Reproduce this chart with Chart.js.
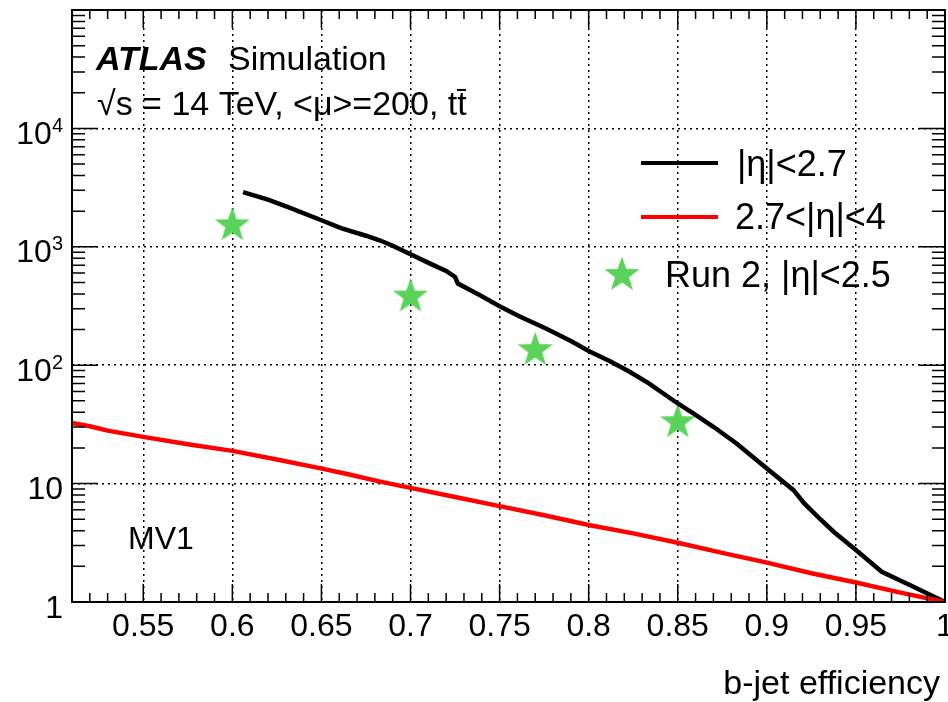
<!DOCTYPE html>
<html>
<head>
<meta charset="utf-8">
<script src="https://cdn.jsdelivr.net/npm/chart.js@4.4.1/dist/chart.umd.min.js"></script>
<style>
  html, body { margin: 0; padding: 0; background: #fff; overflow: hidden; }
  #chart { display: block; }
</style>
</head>
<body>
<canvas id="chart" width="948" height="702"></canvas>
<script>
// |eta| < 2.7 (black)
const centralEff = [0.606, 0.62, 0.632, 0.65, 0.661, 0.675, 0.683, 0.69, 0.70, 0.711, 0.72, 0.725, 0.7266, 0.739, 0.75, 0.761, 0.776, 0.79, 0.80, 0.812, 0.823, 0.834, 0.85, 0.86, 0.87, 0.883, 0.90, 0.915, 0.921, 0.93, 0.9375, 0.95, 0.9645, 0.982, 1.0]
const centralRej = [2900, 2500, 2140, 1675, 1440, 1240, 1130, 1020, 865, 721, 625, 556, 489, 389, 315, 259, 204, 160, 132, 108, 88, 70, 47.5, 38, 30.2, 21.8, 13.4, 8.8, 6.8, 5.0, 3.92, 2.75, 1.80, 1.35, 1.0]

// 2.7 < |eta| < 4 (red)
const forwardEff = [0.51, 0.52, 0.53, 0.55, 0.575, 0.6, 0.625, 0.649, 0.665, 0.683, 0.7, 0.725, 0.75, 0.775, 0.8, 0.825, 0.85, 0.875, 0.9, 0.925, 0.95, 0.975, 1.0]
const forwardRej = [32.5, 30.5, 28, 24.8, 21.5, 18.9, 16, 13.5, 12, 10.4, 9.2, 7.7, 6.45, 5.4, 4.47, 3.8, 3.17, 2.6, 2.15, 1.75, 1.46, 1.2, 1.0]

// Run 2 points (green stars)
const run2Eff = [0.6, 0.7, 0.77, 0.85]
const run2Rej = [1520, 380, 134, 33]

const xTicks = [0.55, 0.6, 0.65, 0.7, 0.75, 0.8, 0.85, 0.9, 0.95, 1]
const xTickLabels = ['0.55', '0.6', '0.65', '0.7', '0.75', '0.8', '0.85', '0.9', '0.95', '1']
const yTicks = [1, 10, 100, 1000, 10000]
const yTickLabels = [['1', ''], ['10', ''], ['10', '2'], ['10', '3'], ['10', '4']]
const legendLabels = ['|η|<2.7', '2.7<|η|<4', 'Run 2, |η|<2.5']

const FONT = '"Liberation Sans", Arial, Helvetica, sans-serif'
const GREEN = '#5ad35a'

function starPath(ctx, cx, cy, r) {
  const inner = r * 0.4
  ctx.beginPath()
  for (let i = 0; i < 10; i++) {
    const rad = i % 2 ? inner : r
    const a = -Math.PI / 2 + i * Math.PI / 5
    ctx.lineTo(cx + rad * Math.cos(a), cy + rad * Math.sin(a))
  }
  ctx.closePath()
}

const starImg = document.createElement('canvas')
starImg.width = 40
starImg.height = 40
const sctx = starImg.getContext('2d')
sctx.fillStyle = GREEN
starPath(sctx, 20, 20, 18.5)
sctx.fill()

const decor = {
  id: 'decor',
  afterDraw(chart) {
    const ctx = chart.ctx
    const {left, right, top, bottom} = chart.chartArea
    const xs = chart.scales.x
    const ys = chart.scales.y
    ctx.save()
    ctx.strokeStyle = '#000'
    ctx.lineWidth = 1.5

    // tick marks inside the frame
    ctx.beginPath()
    for (let i = 51; i <= 100; i++) {
      const x = xs.getPixelForValue(i / 100)
      const len = i % 5 === 0 ? 18 : 9
      ctx.moveTo(x, bottom); ctx.lineTo(x, bottom - len)
      ctx.moveTo(x, top); ctx.lineTo(x, top + len)
    }
    for (let d = 0; d <= 5; d++) {
      for (let k = 1; k <= 9; k++) {
        const v = k * Math.pow(10, d)
        if (v > 100000) break
        const y = ys.getPixelForValue(v)
        const len = k === 1 ? 26 : 13
        ctx.moveTo(left, y); ctx.lineTo(left + len, y)
        ctx.moveTo(right, y); ctx.lineTo(right - len, y)
      }
    }
    ctx.stroke()
    ctx.lineWidth = 2
    ctx.strokeRect(left, top, right - left, bottom - top)

    // tick labels
    ctx.fillStyle = '#000'
    ctx.font = '32px ' + FONT
    ctx.textAlign = 'center'
    ctx.textBaseline = 'alphabetic'
    xTicks.forEach((v, i) => {
      ctx.fillText(xTickLabels[i], xs.getPixelForValue(v), 636)
    })
    yTicks.forEach((v, i) => {
      const y = ys.getPixelForValue(v)
      const [base, exp] = yTickLabels[i]
      ctx.textAlign = 'right'
      let edge = 63
      if (exp) {
        ctx.font = '20px ' + FONT
        ctx.fillText(exp, edge, y + 3.5)
        edge -= ctx.measureText(exp).width
      }
      ctx.font = '32px ' + FONT
      ctx.fillText(base, edge, y + 15.5)
    })

    // axis title
    ctx.textAlign = 'right'
    ctx.font = '34px ' + FONT
    ctx.fillText('b-jet efficiency', 940, 694)

    // labels
    ctx.textAlign = 'left'
    ctx.font = 'italic bold 34px ' + FONT
    ctx.fillText('ATLAS', 96, 70)
    ctx.font = '34px ' + FONT
    ctx.fillText('Simulation', 228, 70)
    ctx.fillText('√s = 14 TeV, <μ>=200, tt\u0304', 97, 115)
    ctx.font = '32px ' + FONT
    ctx.fillText('MV1', 128, 549)

    // legend
    ctx.font = '36px ' + FONT
    ctx.lineWidth = 4
    ctx.strokeStyle = '#000'
    ctx.beginPath(); ctx.moveTo(641, 163); ctx.lineTo(718, 163); ctx.stroke()
    ctx.fillText(legendLabels[0], 737, 176)
    ctx.strokeStyle = '#ff0000'
    ctx.beginPath(); ctx.moveTo(641, 217); ctx.lineTo(718, 217); ctx.stroke()
    ctx.fillText(legendLabels[1], 735, 229)
    ctx.fillStyle = GREEN
    starPath(ctx, 622, 275, 18.5)
    ctx.fill()
    ctx.fillStyle = '#000'
    ctx.fillText(legendLabels[2], 665, 287)
    ctx.restore()
  }
}

const toXY = (xs, ys) => xs.map((x, i) => ({x: x, y: ys[i]}))

new Chart(document.getElementById('chart'), {
  type: 'line',
  data: {
    datasets: [
      {
        label: legendLabels[1],
        data: toXY(forwardEff, forwardRej),
        borderColor: '#ff0000',
        borderWidth: 4.5,
        pointRadius: 0,
        tension: 0
      },
      {
        label: legendLabels[0],
        data: toXY(centralEff, centralRej),
        borderColor: '#000',
        borderWidth: 4.5,
        pointRadius: 0,
        tension: 0
      },
      {
        label: legendLabels[2],
        data: toXY(run2Eff, run2Rej),
        showLine: false,
        pointStyle: starImg,
        pointRadius: 18,
        backgroundColor: GREEN,
        borderColor: GREEN
      }
    ]
  },
  options: {
    responsive: false,
    animation: false,
    layout: { autoPadding: false, padding: { left: 72, right: 3, top: 10, bottom: 100 } },
    plugins: { legend: { display: false }, tooltip: { enabled: false } },
    scales: {
      x: {
        type: 'linear',
        min: 0.51,
        max: 1.0,
        afterBuildTicks: s => { s.ticks = xTicks.slice(0, -1).map(v => ({value: v})) },
        ticks: { display: false },
        grid: { color: '#000', lineWidth: 1.5, drawTicks: false },
        border: { display: false, dash: [2, 4] }
      },
      y: {
        type: 'logarithmic',
        min: 1,
        max: 100000,
        afterBuildTicks: s => { s.ticks = yTicks.slice(1).map(v => ({value: v})) },
        ticks: { display: false },
        grid: { color: '#000', lineWidth: 1.5, drawTicks: false },
        border: { display: false, dash: [2, 4] }
      }
    }
  },
  plugins: [decor]
})
</script>
</body>
</html>
